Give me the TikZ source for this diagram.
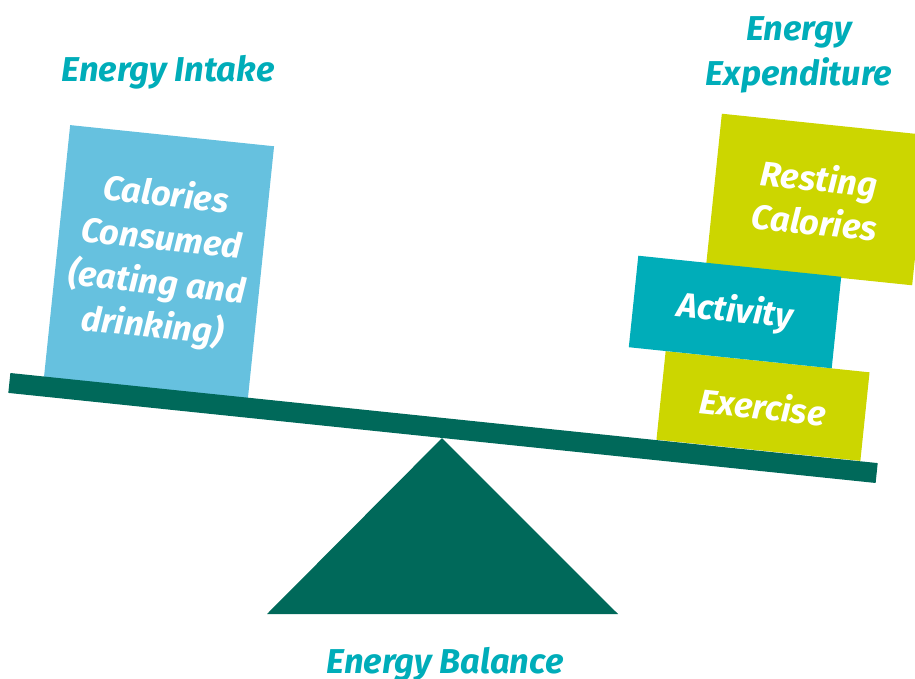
\documentclass[tikz,border=0pt]{standalone}
\usepackage{fontspec}
\setmainfont{Fira Sans}
\usetikzlibrary{calc}
\definecolor{beamgreen}{HTML}{00695A}
\definecolor{elime}{HTML}{CCD600}
\definecolor{esky}{HTML}{66C1DF}
\definecolor{eteal}{HTML}{00ADB9}

\begin{document}
\begin{tikzpicture}[x=1pt, y=-1pt,
	block/.style={rotate=-5.93, inner sep=0pt, align=center, text=white,
		font=\fontsize{34.5}{44}\selectfont\bfseries\itshape},
	heading/.style={text=eteal, align=center,
		font=\fontsize{34.5}{45}\selectfont\bfseries\itshape}]
	\useasboundingbox (0,0) rectangle (915,679);
%	\draw[gray!30, step=50] (0,0) grid (915,679);

	% weights on the right pan
	\node[block, fill=elime, minimum width=207pt, minimum height=151pt] (resting) at (817,199.5) {Resting\\Calories};
	\node[block, fill=elime, minimum width=205pt, minimum height=89pt] (exercise) at (763,406) {Exercise};
	\node[block, fill=eteal, minimum width=204pt, minimum height=92pt] (activity) at (735,312) {Activity};
	% weight on the left pan
	\node[block, fill=esky, minimum width=205pt, minimum height=254pt] (consumed) at (159,262)
		{Calories\\Consumed\\(eating and\\drinking)};

	% beam and pivot
	\node[rotate=-5.93, fill=beamgreen, inner sep=0pt, minimum width=872pt, minimum height=20pt] (beam) at (443,428) {};
	\coordinate (pivot) at (beam.south);
	\fill[beamgreen] (pivot) -- (618,614) -- (267,614) -- cycle;

	\node[heading] (intake) at (168,72) {Energy Intake};
	\node[heading] (expenditure) at (799,55) {Energy\\Expenditure};
	\node[heading] (balance) at (445,664) {Energy Balance};
\end{tikzpicture}
\end{document}
